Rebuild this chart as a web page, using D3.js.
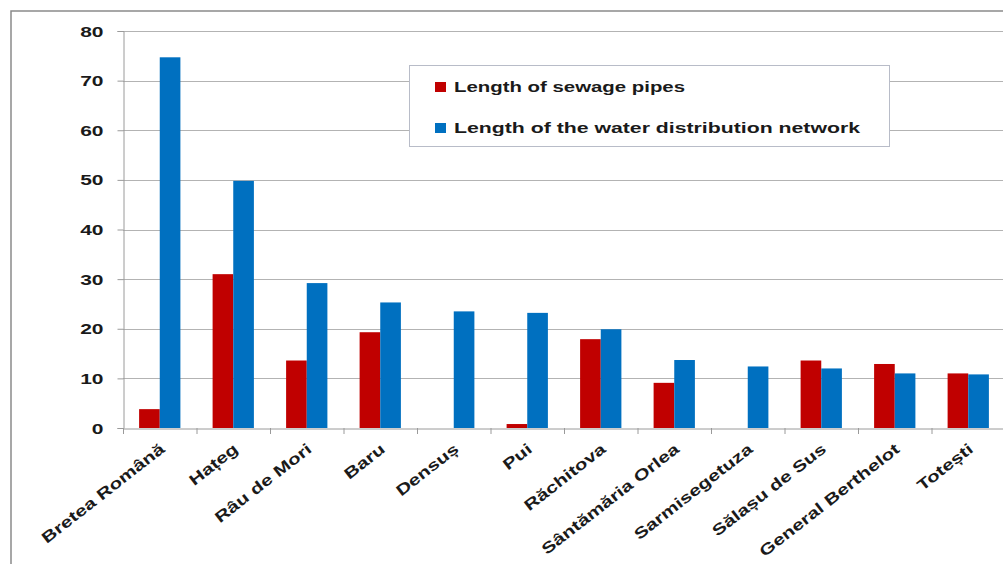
<!DOCTYPE html>
<html>
<head>
<meta charset="utf-8">
<script src="https://cdn.jsdelivr.net/npm/d3@7"></script>
<style>
  html, body { margin: 0; padding: 0; background: #fff; }
  svg { display: block; }
  text { font-family: "Liberation Sans", Arial, sans-serif; font-weight: bold; fill: #1a1a1a; }
</style>
</head>
<body>
<svg id="chart" width="1003" height="564"></svg>
<script>
// Communes
const categories = ["Bretea Română", "Hațeg", "Râu de Mori", "Baru", "Densuș", "Pui",
  "Răchitova", "Sântămăria Orlea", "Sarmisegetuza", "Sălașu de Sus", "General Berthelot", "Totești"];
// Length of sewage pipes (km)
const sewage = [3.8, 31.0, 13.6, 19.3, 0, 0.8, 17.9, 9.1, 0, 13.6, 12.9, 11.0];
// Length of the water distribution network (km)
const water = [74.7, 49.8, 29.2, 25.3, 23.5, 23.2, 19.9, 13.7, 12.4, 12.0, 11.0, 10.8];
const seriesNames = ["Length of sewage pipes", "Length of the water distribution network"];
const seriesColors = ["#C00000", "#0070C0"];
const yTicks = [0, 10, 20, 30, 40, 50, 60, 70, 80];

const svg = d3.select("#chart");
const plot = { left: 123, right: 1005, top: 31, bottom: 428 };

const x = d3.scaleBand().domain(categories).range([plot.left, plot.right]).paddingInner(0).paddingOuter(0);
const inner = d3.scaleBand().domain([0, 1]).range([0, x.bandwidth()]).paddingInner(0).paddingOuter(0.78);
const y = d3.scaleLinear().domain([0, 80]).range([plot.bottom, plot.top]);

// Outer frame (top and left edges)
svg.append("path")
  .attr("d", `M11,564 L11,11 L1003,11`)
  .attr("fill", "none").attr("stroke", "#8a8a8a").attr("stroke-width", 1.5);

// Horizontal gridlines
svg.append("g").selectAll("line").data(yTicks.filter(d => d > 0)).join("line")
  .attr("x1", plot.left).attr("x2", 1003)
  .attr("y1", d => Math.round(y(d)) + 0.5).attr("y2", d => Math.round(y(d)) + 0.5)
  .attr("stroke", "#b3b3b3").attr("stroke-width", 1);

// Y axis
const yAxis = svg.append("g").attr("transform", `translate(${plot.left + 0.5},0)`)
  .call(d3.axisLeft(y).tickValues(yTicks).tickSize(6).tickPadding(0).tickFormat(d3.format("d")));
yAxis.select(".domain").attr("stroke", "#9a9a9a");
yAxis.selectAll(".tick line").attr("stroke", "#9a9a9a");
yAxis.selectAll(".tick text").remove();
yAxis.selectAll(".tick").append("text")
  .attr("text-anchor", "end")
  .attr("transform", "translate(-20,5) scale(1.5,1)")
  .style("font-size", "14px")
  .text(d => d);

// Bars
const groups = svg.append("g").selectAll("g").data(categories).join("g")
  .attr("transform", d => `translate(${x(d)},0)`);
[sewage, water].forEach((vals, si) => {
  groups.append("rect")
    .attr("x", inner(si))
    .attr("width", inner.bandwidth())
    .attr("y", (d, i) => y(vals[i]))
    .attr("height", (d, i) => y(0) - y(vals[i]))
    .attr("fill", seriesColors[si]);
});

// X axis
const xAxis = svg.append("g").attr("transform", `translate(0,${plot.bottom + 0.5})`)
  .call(d3.axisBottom(x).tickSize(0).tickFormat(""));
xAxis.select(".domain").attr("stroke", "#9a9a9a");
// category boundary ticks
svg.append("g").selectAll("line").data(d3.range(categories.length + 1)).join("line")
  .attr("x1", i => plot.left + i * x.bandwidth() + 0.5)
  .attr("x2", i => plot.left + i * x.bandwidth() + 0.5)
  .attr("y1", plot.bottom).attr("y2", plot.bottom + 6)
  .attr("stroke", "#9a9a9a");

// Rotated category labels
svg.append("g").selectAll("text").data(categories).join("text")
  .attr("text-anchor", "end")
  .attr("transform", d => `translate(${x(d) + x.bandwidth() / 2 + 6},451) rotate(-38) scale(1.33,1)`)
  .style("font-size", "15.5px")
  .text(d => d);

// Legend
const legend = svg.append("g");
legend.append("rect")
  .attr("x", 409.5).attr("y", 65.5).attr("width", 480).attr("height", 81)
  .attr("fill", "#fff").attr("stroke", "#b8bcc8").attr("stroke-width", 1);
const legendY = [82, 123];
const legendW = [231, 406];
seriesNames.forEach((name, i) => {
  legend.append("rect").attr("x", 435).attr("y", legendY[i]).attr("width", 11).attr("height", 10)
    .attr("fill", seriesColors[i]);
  legend.append("text").attr("x", 454).attr("y", legendY[i] + 10)
    .attr("textLength", legendW[i]).attr("lengthAdjust", "spacingAndGlyphs")
    .style("font-size", "15px")
    .text(name);
});
</script>
</body>
</html>
